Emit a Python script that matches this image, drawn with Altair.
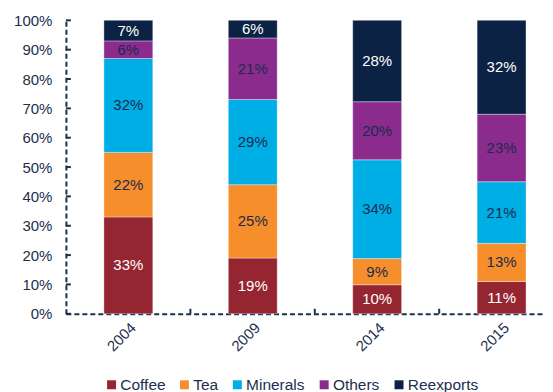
import altair as alt
import pandas as pd

years = ["2004", "2009", "2014", "2015"]
categories = ["Coffee", "Tea", "Minerals", "Others", "Reexports"]
coffee = [33, 19, 10, 11]
tea = [22, 25, 9, 13]
minerals = [32, 29, 34, 21]
others = [6, 21, 20, 23]
reexports = [7, 6, 28, 32]
colors = ["#952530", "#f68e2c", "#00aee6", "#8b2b8e", "#0b2244"]
label_colors = ["#ffffff", "#1a2b4c", "#1a2b4c", "#1a2b4c", "#ffffff"]
y_ticks = [0, 0.1, 0.2, 0.3, 0.4, 0.5, 0.6, 0.7, 0.8, 0.9, 1.0]

DARK = "#1c2f4e"
FONT = "Liberation Sans"

rows = []
for order, (cat, vals) in enumerate(zip(categories, [coffee, tea, minerals, others, reexports])):
    for y, v in zip(years, vals):
        rows.append({"year": y, "cat": cat, "value": v, "order": order,
                     "label": f"{v}%", "tcolor": label_colors[order]})
df = pd.DataFrame(rows)

W, H = 480, 294

xscale = alt.Scale(domain=years, paddingInner=0.607, paddingOuter=0.229, align=0.667)
yscale = alt.Scale(domain=[0, 1])

x_axis = alt.Axis(title=None, labelAngle=-45, labelFontSize=15, labelColor=DARK,
                  labelFont=FONT, ticks=False, domainDash=[5, 3], domainColor=DARK,
                  domainWidth=2, labelPadding=6)
y_axis = alt.Axis(title=None, format="%", values=y_ticks, tickCount=11, labelFontSize=15,
                  labelColor=DARK, labelFont=FONT, ticks=False, domainDash=[5, 3],
                  domainColor=DARK, domainWidth=2, labelPadding=14, grid=False,
                  labelOverlap=False)

base = alt.Chart(df).transform_stack(
    stack="value", groupby=["year"], as_=["y0", "y1"], offset="normalize",
    sort=[alt.SortField("order", order="ascending")]
).transform_calculate(mid="(datum.y0 + datum.y1) / 2")

bars = base.mark_bar(stroke="#ffffff", strokeWidth=0.6, strokeOpacity=0.6).encode(
    x=alt.X("year:N", scale=xscale, sort=years, axis=x_axis),
    y=alt.Y("y0:Q", scale=yscale, axis=y_axis),
    y2="y1:Q",
    color=alt.Color("cat:N", scale=alt.Scale(domain=categories, range=colors),
                    sort=categories,
                    legend=alt.Legend(title=None, orient="none", direction="horizontal",
                                      legendX=38, legendY=357,
                                      symbolType="square", symbolSize=81, labelFontSize=15.5,
                                      labelFont=FONT, labelColor=DARK, columnPadding=11,
                                      symbolStrokeWidth=0, labelOffset=1)),
    order=alt.Order("order:Q"),
)

texts = base.mark_text(fontSize=15, font=FONT).encode(
    x=alt.X("year:N", scale=xscale, sort=years, axis=x_axis),
    y=alt.Y("mid:Q", scale=yscale, axis=y_axis),
    text="label:N",
    color=alt.Color("tcolor:N", scale=None),
)

yt = alt.Chart(pd.DataFrame({"t": y_ticks})).mark_rule(color=DARK, strokeWidth=2).encode(
    y=alt.Y("t:Q", scale=yscale, axis=y_axis), x=alt.value(0), x2=alt.value(5)
)

xt = alt.Chart(pd.DataFrame({"year": years[1:]})).mark_rule(
    color=DARK, strokeWidth=2, xOffset=-38).encode(
    x=alt.X("year:N", scale=xscale, sort=years, bandPosition=0, axis=x_axis),
    y=alt.value(H), y2=alt.value(H - 5)
)

chart = alt.layer(bars, texts, yt, xt).properties(
    width=W, height=H, padding={"left": 5, "top": 5, "right": 0, "bottom": 0}
).configure_view(stroke=None)

chart.save("out.html", embed_options={"renderer": "svg", "actions": False})
